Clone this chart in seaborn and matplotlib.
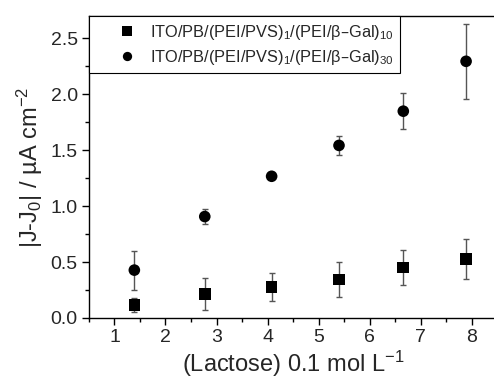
import numpy as np
import pandas as pd
import matplotlib
matplotlib.use("Agg")
import matplotlib.pyplot as plt
from matplotlib.ticker import MultipleLocator
import seaborn as sns

# Data
lactose = [1.39, 2.77, 4.08, 5.40, 6.66, 7.89]
j10 = [0.116, 0.214, 0.277, 0.345, 0.452, 0.526]
j10_err = [0.066, 0.140, 0.125, 0.155, 0.155, 0.177]
j30 = [0.428, 0.907, 1.267, 1.543, 1.849, 2.295]
j30_err = [0.175, 0.063, 0.0, 0.083, 0.163, 0.334]
labels = [r"ITO/PB/(PEI/PVS)$_1$/(PEI/β–Gal)$_{10}$",
          r"ITO/PB/(PEI/PVS)$_1$/(PEI/β–Gal)$_{30}$"]

sns.set_theme(style="white")
plt.rcParams['font.family'] = ['Liberation Sans', 'DejaVu Sans']
plt.rcParams['mathtext.default'] = 'regular'

df = pd.DataFrame({
    "x": lactose + lactose,
    "y": j10 + j30,
    "err": j10_err + j30_err,
    "series": [labels[0]] * 6 + [labels[1]] * 6,
})

fig = plt.figure(figsize=(4.94, 3.81), dpi=100)
ax = fig.add_axes([0.180, 0.1654, 0.8265, 0.7926])

for lab in labels:
    sub = df[df.series == lab]
    ax.errorbar(sub.x, sub.y, yerr=sub.err, fmt="none", ecolor="#555555",
                elinewidth=1.0, capsize=2.5, capthick=1.0, zorder=2)

sns.scatterplot(data=df, x="x", y="y", style="series", hue="series",
                markers={labels[0]: "s", labels[1]: "o"},
                palette={labels[0]: "black", labels[1]: "black"},
                s=70, edgecolor="black", linewidth=0, ax=ax, zorder=3)

ax.set_xlim(0.5, 8.5)
ax.set_ylim(0, 2.7)
ax.xaxis.set_major_locator(MultipleLocator(1))
ax.xaxis.set_minor_locator(MultipleLocator(0.5))
ax.yaxis.set_major_locator(MultipleLocator(0.5))
ax.yaxis.set_minor_locator(MultipleLocator(0.25))
ax.tick_params(which="both", direction="out", color="black", width=1.0,
               bottom=True, left=True, top=False, right=False)
ax.tick_params(which="major", length=5, labelsize=14, pad=3)
ax.tick_params(which="minor", length=3)
for s in ax.spines.values():
    s.set_color("black")
    s.set_linewidth(1.0)

ax.set_xlabel(r"(Lactose) 0.1 mol L$^{-1}$", fontsize=17, labelpad=2)
ax.set_ylabel(r"|J-J$_0$| / µA cm$^{-2}$", fontsize=17, labelpad=4)

leg = ax.legend(loc="upper left", bbox_to_anchor=(0, 1), borderaxespad=0,
                fancybox=False, edgecolor="black", framealpha=1, fontsize=11.8,
                handletextpad=-0.5, borderpad=0.4, labelspacing=0.38,
                handlelength=3.8, markerscale=0.8)
leg.get_frame().set_linewidth(0.8)

fig.savefig("out.png", dpi=100)
